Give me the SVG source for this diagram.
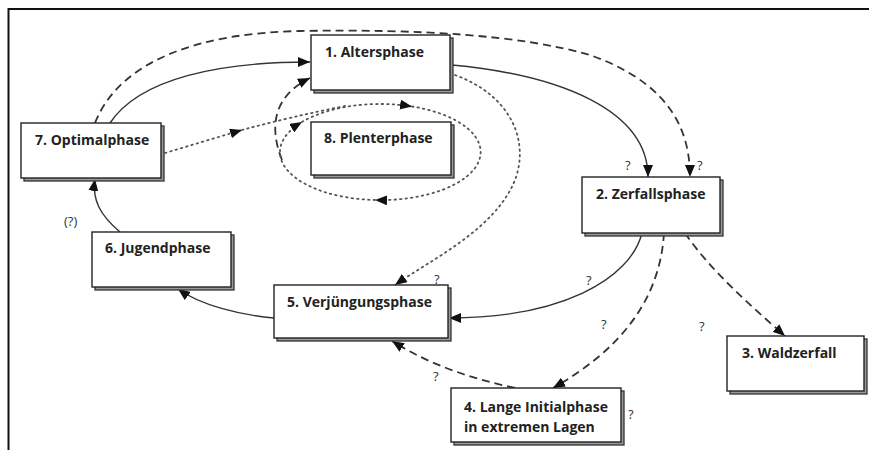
<svg xmlns="http://www.w3.org/2000/svg" width="869" height="450" viewBox="0 0 869 450">
<style>
.shadow{fill:#999;stroke:#333;stroke-width:1.3}
.box{fill:#fff;stroke:#222;stroke-width:1.4}
.lbl{font-family:"Open Sans","Liberation Sans",sans-serif;font-weight:700;font-size:14px;fill:#222}
.q{font-family:"Open Sans","Liberation Sans",sans-serif;font-size:13px;fill:#333}
.c{fill:none;stroke:#333;stroke-width:1.4}
.solid{}
.dash{stroke-dasharray:8 5;stroke-width:1.8}
.dot{stroke-dasharray:1.5 4;stroke-width:1.8;stroke-linecap:round;stroke:#555}
</style>
<defs>
<marker id="ah" viewBox="0 0 12 10" refX="12" refY="5" markerWidth="12" markerHeight="10" markerUnits="userSpaceOnUse" orient="auto">
<path d="M0,0 L12,5 L0,10 Z" fill="#111"/>
</marker>
</defs>
<rect width="869" height="450" fill="#fff"/>
<path d="M8.5,450 L8.5,9 L869,9" fill="none" stroke="#111" stroke-width="2"/>

<g id="connectors">
<path class="c solid" d="M110,123 C140,78 220,62 310,62" marker-end="url(#ah)"/>
<path class="c dash" d="M95,123 C120,60 200,33 300,31 C420,29 520,35 590,55 C660,80 690,120 690,177" marker-end="url(#ah)"/>
<path class="c solid" d="M452,65 C560,75 648,110 648,177" marker-end="url(#ah)"/>
<path class="c dash" d="M282,160 C268,125 275,95 310,78" marker-end="url(#ah)"/>
<path class="c dot" d="M165,153 L242,130" marker-end="url(#ah)"/>
<path class="c dot" d="M242,130 Q290,117 345,106"/>
<path class="c dot" d="M302,122 A100,48 0 0 1 412,106.5" marker-end="url(#ah)"/>
<path class="c dot" d="M412,106.5 A100,48 0 0 1 375,200" marker-end="url(#ah)"/>
<path class="c dot" d="M375,200 A100,48 0 0 1 302,122" marker-end="url(#ah)"/>
<path class="c dot" d="M455,75 C510,95 530,140 515,180 C495,230 430,260 395,285" marker-end="url(#ah)"/>
<path class="c solid" d="M642,233 C630,280 560,318 449,318" marker-end="url(#ah)"/>
<path class="c dash" d="M664,233 C660,300 620,350 553,388" marker-end="url(#ah)"/>
<path class="c dash" d="M685,233 C710,270 750,305 785,336" marker-end="url(#ah)"/>
<path class="c dash" d="M515,388 C470,378 430,365 392,341" marker-end="url(#ah)"/>
<path class="c solid" d="M274,318 C240,315 200,305 178,289" marker-end="url(#ah)"/>
<path class="c solid" d="M120,232 C100,215 92,200 95,179" marker-end="url(#ah)"/>
<text class="q" x="625" y="170">?</text>
<text class="q" x="697" y="170">?</text>
<text class="q" x="434" y="284">?</text>
<text class="q" x="586" y="285">?</text>
<text class="q" x="601" y="329">?</text>
<text class="q" x="699" y="331">?</text>
<text class="q" x="433" y="381">?</text>
<text class="q" x="628" y="419">?</text>
<text class="q" x="64" y="226">(?)</text>
</g>

<g id="n1">
<rect class="shadow" x="314" y="38" width="139" height="55"/>
<rect class="box" x="311" y="35" width="139" height="55"/>
<text class="lbl" x="325" y="57">1. Altersphase</text>
</g>
<g id="n2">
<rect class="shadow" x="585" y="180" width="138" height="56"/>
<rect class="box" x="582" y="177" width="138" height="56"/>
<text class="lbl" x="596" y="199">2. Zerfallsphase</text>
</g>
<g id="n3">
<rect class="shadow" x="730" y="339" width="137" height="55"/>
<rect class="box" x="727" y="336" width="137" height="55"/>
<text class="lbl" x="742" y="358">3. Waldzerfall</text>
</g>
<g id="n4">
<rect class="shadow" x="454" y="391" width="170" height="54"/>
<rect class="box" x="451" y="388" width="170" height="54"/>
<text class="lbl" x="464" y="412">4. Lange Initialphase</text>
<text class="lbl" x="464" y="432">in extremen Lagen</text>
</g>
<g id="n5">
<rect class="shadow" x="277" y="288" width="174" height="53"/>
<rect class="box" x="274" y="285" width="174" height="53"/>
<text class="lbl" x="287" y="307">5. Verjüngungsphase</text>
</g>
<g id="n6">
<rect class="shadow" x="95" y="235" width="139" height="55"/>
<rect class="box" x="92" y="232" width="139" height="55"/>
<text class="lbl" x="105" y="253">6. Jugendphase</text>
</g>
<g id="n7">
<rect class="shadow" x="24" y="126" width="140" height="55"/>
<rect class="box" x="21" y="123" width="140" height="55"/>
<text class="lbl" x="35" y="145">7. Optimalphase</text>
</g>
<g id="n8">
<rect class="shadow" x="314" y="125" width="140" height="53"/>
<rect class="box" x="311" y="122" width="140" height="53"/>
<text class="lbl" x="324" y="143">8. Plenterphase</text>
</g>
</svg>
